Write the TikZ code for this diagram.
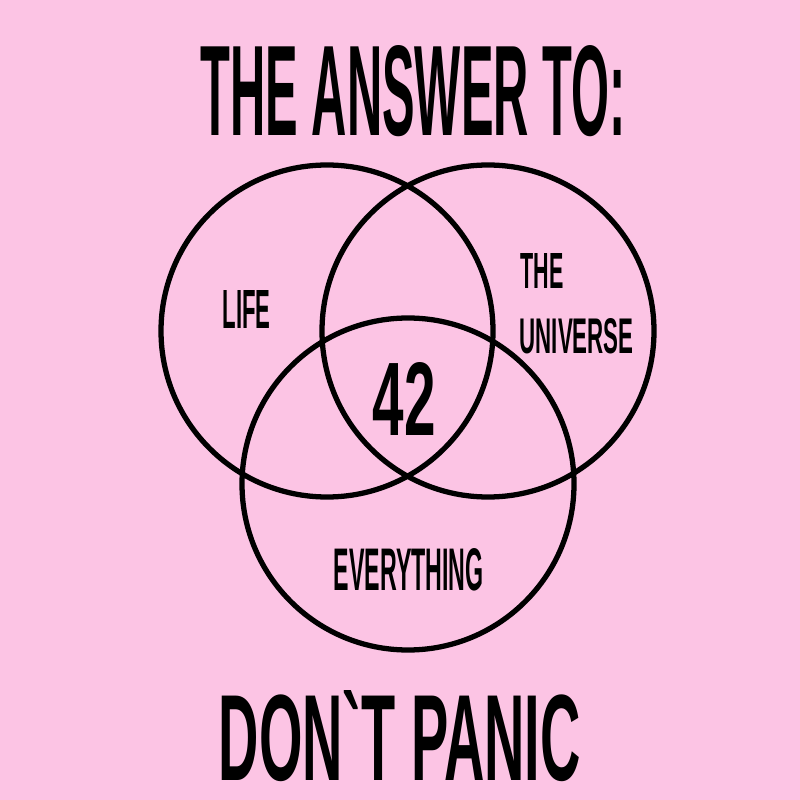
\documentclass[tikz,border=0pt]{standalone}
\usepackage{fontspec}
\setmainfont{Liberation Sans}
\usepackage{graphicx}
\definecolor{bgpink}{RGB}{252,196,228}
\newcommand{\fitword}[3]{\resizebox{#1cm}{#2cm}{\bfseries #3}}
\begin{document}
\begin{tikzpicture}[y=-1cm]
        \def\rad{1.66}
        \tikzset{ring/.style = {draw, line width = 1.5pt},
                 word/.style = {inner sep = 0pt, anchor = north west}}
        \fill[bgpink] (0,0) rectangle (8,8);
        \useasboundingbox (0,0) rectangle (8,8);

        \node(title) [word] at (2.00,0.45) {\fitword{4.25}{0.90}{THE ANSWER TO:}};

        \draw[ring] (3.27,3.31) circle (\rad);
        \draw[ring] (4.88,3.31) circle (\rad);
        \draw[ring] (4.08,4.84) circle (\rad);

        \node(life) [word] at (2.22,2.90) {\fitword{0.48}{0.38}{LIFE}};
        \node(the) [word] at (5.20,2.53) {\fitword{0.43}{0.35}{THE}};
        \node(universe) [word] at (5.19,3.18) {\fitword{1.14}{0.35}{UNIVERSE}};
        \node(answer) [word] at (3.72,3.62) {\fitword{0.63}{0.73}{42}};
        \node(everything) [word] at (3.33,5.48) {\fitword{1.50}{0.42}{EVERYTHING}};

        \node(panic) [word] at (2.18,6.90) {\fitword{3.62}{0.90}{DON\textasciigrave T PANIC}};
\end{tikzpicture}
\end{document}
